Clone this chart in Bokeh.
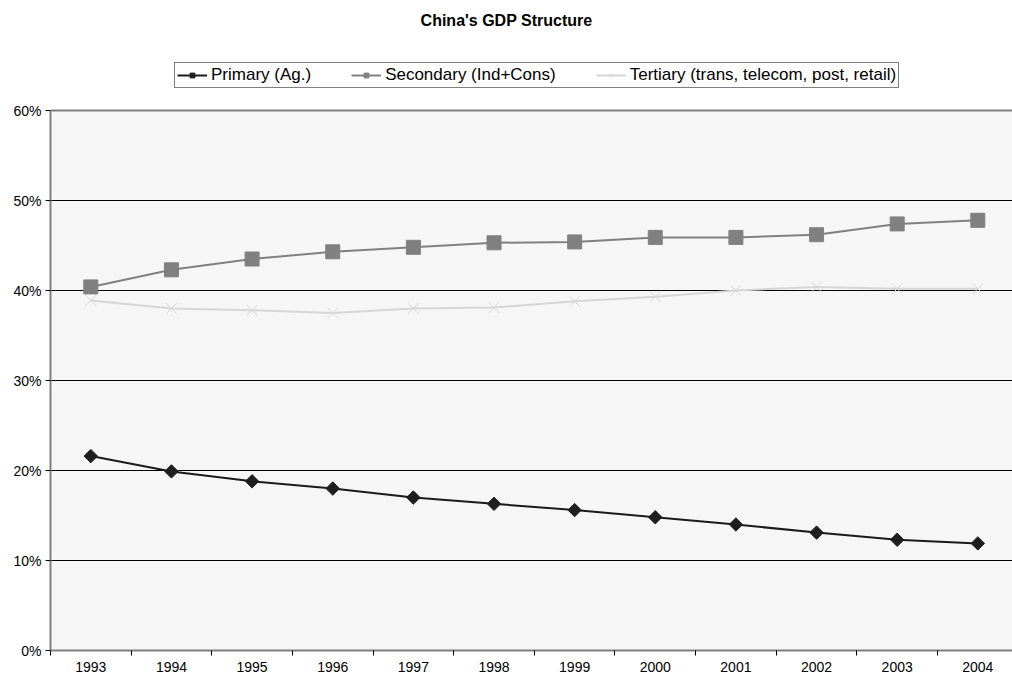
import math
from bokeh.plotting import figure
from bokeh.models import (ColumnDataSource, FixedTicker, NumeralTickFormatter,
                          Range1d, Legend, LegendItem, Span, BoxAnnotation, Label)
from bokeh.embed import file_html
from bokeh.resources import INLINE

# China's GDP structure by sector, share of GDP
years = ["1993", "1994", "1995", "1996", "1997", "1998",
         "1999", "2000", "2001", "2002", "2003", "2004"]
primary = [21.6, 19.9, 18.8, 18.0, 17.0, 16.3, 15.6, 14.8, 14.0, 13.1, 12.3, 11.9]
secondary = [40.4, 42.3, 43.5, 44.3, 44.8, 45.3, 45.4, 45.9, 45.9, 46.2, 47.4, 47.8]
tertiary = [38.9, 38.0, 37.8, 37.5, 38.0, 38.1, 38.8, 39.3, 40.0, 40.4, 40.2, 40.2]
y_ticks = [0.0, 0.1, 0.2, 0.3, 0.4, 0.5, 0.6]
y_max = 0.6

xs = list(range(len(years)))
src = ColumnDataSource(data=dict(
    x=xs,
    primary=[v / 100 for v in primary],
    secondary=[v / 100 for v in secondary],
    tertiary=[v / 100 for v in tertiary],
))

FONT = "Liberation Sans"
W, H = 1012, 679
LEFT, BOTTOM, TOP_GAP = 50, 29, 110
plot_h = H - BOTTOM - TOP_GAP               # height of the value area in px
px_per_unit = plot_h / y_max
y_top = y_max + TOP_GAP / px_per_unit       # room above the value area for title/legend
x_lo, x_hi = -0.5, 11.43
px_per_cat = (W - LEFT) / (x_hi - x_lo)

p = figure(width=W, height=H, output_backend="svg", toolbar_location=None,
           x_range=Range1d(x_lo, x_hi), y_range=Range1d(0, y_top),
           min_border_left=LEFT, min_border_right=0, min_border_top=0,
           min_border_bottom=BOTTOM)

p.border_fill_color = "#ffffff"
p.background_fill_color = "#ffffff"
p.outline_line_color = None

# shaded value area and its top edge
p.add_layout(BoxAnnotation(bottom=0, top=y_max, fill_color="#f6f6f6", fill_alpha=1.0,
                           line_color=None, level="image"))
p.add_layout(Span(location=y_max, dimension="width", line_color="#7f7f7f", line_width=2))

# x axis: year labels centred, tick marks between categories
p.xaxis.ticker = FixedTicker(ticks=xs, minor_ticks=[i + 0.5 for i in range(-1, len(years))])
p.xaxis.major_label_overrides = {i: y for i, y in enumerate(years)}
p.xaxis.major_tick_line_color = None
p.xaxis.minor_tick_line_color = "#000000"
p.xaxis.minor_tick_in = 0
p.xaxis.minor_tick_out = 5
p.xaxis.major_label_standoff = 5
p.xaxis.axis_line_color = "#7f7f7f"
p.xaxis.axis_line_width = 2
p.xaxis.major_label_text_font = FONT
p.xaxis.major_label_text_font_size = "14px"
p.xaxis.major_label_text_color = "#000000"

p.yaxis.ticker = FixedTicker(ticks=y_ticks, minor_ticks=[])
p.yaxis.formatter = NumeralTickFormatter(format="0%")
p.yaxis.bounds = (0, y_max)
p.yaxis.major_tick_line_color = "#000000"
p.yaxis.major_tick_in = 0
p.yaxis.major_tick_out = 5
p.yaxis.major_label_standoff = 4
p.yaxis.axis_line_color = "#7f7f7f"
p.yaxis.axis_line_width = 2
p.yaxis.major_label_text_font = FONT
p.yaxis.major_label_text_font_size = "14px"
p.yaxis.major_label_text_color = "#000000"

p.xgrid.grid_line_color = None
p.ygrid.ticker = FixedTicker(ticks=y_ticks[1:-1])
p.ygrid.grid_line_color = "#000000"
p.ygrid.grid_line_width = 1

l3 = p.line("x", "tertiary", source=src, line_color="#d6d6d6", line_width=2)
s3 = p.scatter("x", "tertiary", source=src, marker="x", size=15,
               line_color="#d6d6d6", line_width=1)
l2 = p.line("x", "secondary", source=src, line_color="#808080", line_width=2)
s2 = p.scatter("x", "secondary", source=src, marker="square", size=14,
               fill_color="#808080", line_color="#808080")
l1 = p.line("x", "primary", source=src, line_color="#1a1a1a", line_width=2)
s1 = p.scatter("x", "primary", source=src, marker="square", size=9.5,
               angle=math.pi / 4, fill_color="#1e1e1e", line_color="#1e1e1e")

# chart title, centred over the figure
title_x = x_lo + (506 - LEFT) / px_per_cat
title_y = y_max + (TOP_GAP - 20) / px_per_unit
p.add_layout(Label(x=title_x, y=title_y, text="China's GDP Structure",
                   text_font=FONT, text_font_size="16px", text_font_style="bold",
                   text_color="#000000", text_align="center", text_baseline="middle"))

legend = Legend(items=[
    LegendItem(label="Primary (Ag.)", renderers=[l1, s1]),
    LegendItem(label="Secondary (Ind+Cons)", renderers=[l2, s2]),
    LegendItem(label="Tertiary (trans, telecom, post, retail)", renderers=[l3, s3]),
], orientation="horizontal", location=(124, plot_h + 22),
    label_text_font=FONT, label_text_font_size="17px", label_text_color="#000000",
    glyph_width=30, glyph_height=12, label_standoff=4, spacing=40,
    padding=2, margin=0, border_line_color="#000000", border_line_width=1,
    background_fill_color="#ffffff", background_fill_alpha=1.0)
p.add_layout(legend, "center")

open("out.html", "w").write(file_html(p, INLINE))
